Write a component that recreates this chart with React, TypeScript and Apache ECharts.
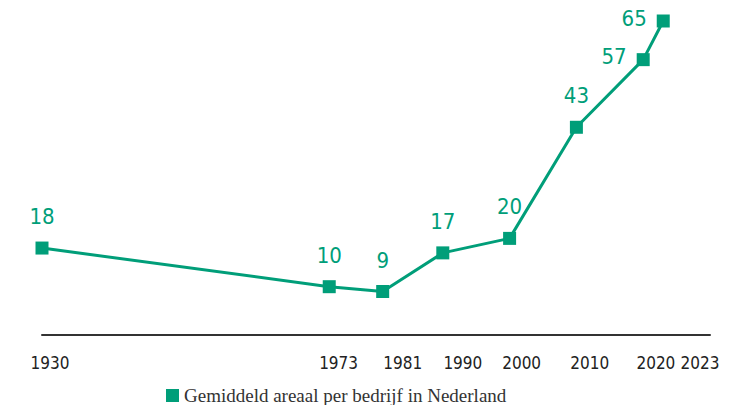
import React, { useEffect, useRef } from "react";
import * as echarts from "echarts";

const years = [1930, 1973, 1981, 1990, 2000, 2010, 2020, 2023];
const areaHa = [18, 10, 9, 17, 20, 43, 57, 65];
const tickLabels = ["1930", "1973", "1981", "1990", "2000", "2010", "2020", "2023"];
// where each tick label is drawn on the year scale (spread out so labels don't collide)
const labelAnchorYears = [1931.2, 1974.4, 1984, 1993, 2001.8, 2012, 2021.9, 2028.5];
const seriesName = "Gemiddeld areaal per bedrijf in Nederland";

const GREEN = "#009e79";
const CONDENSED = "'DejaVu Sans Condensed', 'Roboto', sans-serif";

export default function App() {
  const ref = useRef<HTMLDivElement>(null);
  useEffect(() => {
    document.body.style.margin = "0";
    const chart = echarts.init(ref.current!, null, { renderer: "svg" });
    const data = years.map((y, i) => ({
      value: [y, areaHa[i]],
      label: i >= 6 ? { position: "left", distance: 10, offset: [0, -3] } : undefined,
    }));
    chart.setOption({
      animation: false,
      grid: { left: 42, right: 27, top: 21, bottom: 70 },
      legend: {
        data: [seriesName],
        left: 166,
        top: 386,
        padding: 0,
        icon: "rect",
        itemWidth: 13,
        itemHeight: 13,
        itemGap: 8,
        textStyle: { fontFamily: "'Liberation Serif', serif", fontSize: 19, lineHeight: 19, color: "#333" },
      },
      xAxis: [
        {
          type: "value",
          min: 1930,
          max: 2030,
          axisLine: { show: true, lineStyle: { color: "#333", width: 2 } },
          axisTick: { show: false },
          splitLine: { show: false },
          axisLabel: { show: false },
        },
        {
          type: "value",
          min: 1930,
          max: 2030,
          position: "bottom",
          axisLine: { show: false },
          axisTick: { show: false },
          splitLine: { show: false },
          axisLabel: {
            customValues: labelAnchorYears,
            formatter: (v: number) => {
              const idx = labelAnchorYears.indexOf(v);
              return idx >= 0 ? tickLabels[idx] : "";
            },
            margin: 19,
            fontFamily: CONDENSED,
            fontSize: 17,
            color: "#222",
          },
        },
      ],
      yAxis: {
        type: "value",
        min: 0,
        max: 65,
        show: false,
        splitLine: { show: false },
      },
      series: [
        {
          name: seriesName,
          type: "line",
          xAxisIndex: 0,
          data,
          clip: false,
          symbol: "rect",
          symbolSize: 13,
          itemStyle: { color: GREEN },
          lineStyle: { color: GREEN, width: 3 },
          label: {
            show: true,
            position: "top",
            distance: 14,
            formatter: (p: any) => String(p.value[1]),
            fontFamily: CONDENSED,
            fontSize: 22,
            color: GREEN,
          },
        },
      ],
    });
    return () => chart.dispose();
  }, []);
  return <div ref={ref} style={{ width: 737, height: 405 }} />;
}
